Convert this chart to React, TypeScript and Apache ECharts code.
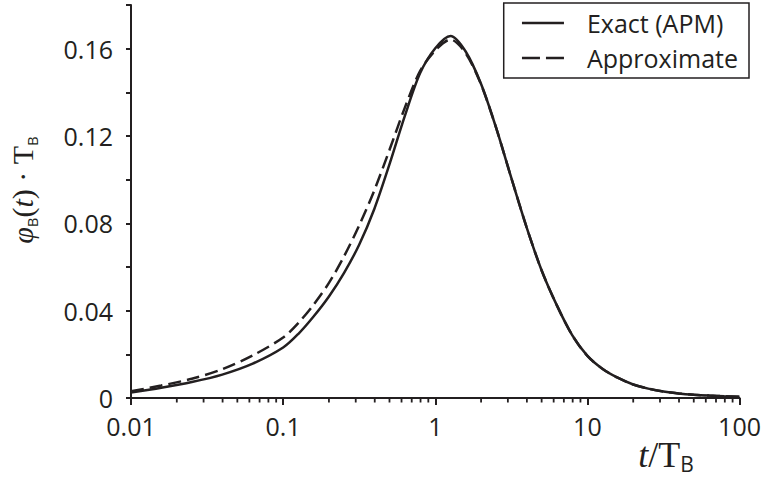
import React, { useEffect, useRef } from "react";
import * as echarts from "echarts";

// ---- data (t/T_B, phi_B(t)*T_B) ----
const tValues = [
  0.01, 0.0158, 0.0251, 0.0398, 0.0631, 0.1, 0.126, 0.158, 0.2, 0.251, 0.316, 0.398, 0.501, 0.631, 0.794,
  1, 1.26, 1.58, 2, 2.51, 3.16, 3.98, 5.01, 6.31, 7.94, 10, 12.6, 15.8, 20, 25.1, 31.6, 39.8, 50.1, 63.1, 79.4, 100,
];
const exactV = [
  0.0025, 0.0047, 0.0073, 0.0107, 0.0157, 0.0231, 0.0294, 0.0372, 0.0465, 0.0572, 0.0702, 0.0867, 0.1072, 0.1292, 0.1487,
  0.1602, 0.1658, 0.1588, 0.1438, 0.1238, 0.1008, 0.0783, 0.0583, 0.0423, 0.0288, 0.0193, 0.0133, 0.0093, 0.0062, 0.0043, 0.003, 0.0021, 0.0015, 0.0011, 0.0008, 0.0006,
];
const approxV = [
  0.0031, 0.0057, 0.0088, 0.0132, 0.0195, 0.0277, 0.0344, 0.0426, 0.0527, 0.0648, 0.079, 0.0952, 0.1138, 0.133, 0.1497,
  0.1592, 0.1642, 0.158, 0.1436, 0.1238, 0.1008, 0.0783, 0.0583, 0.0423, 0.0288, 0.0193, 0.0133, 0.0093, 0.0062, 0.0043, 0.003, 0.0021, 0.0015, 0.0011, 0.0008, 0.0006,
];

const seriesNames = ["Exact (APM)", "Approximate"];
const xMin = 0.01;
const xMax = 100;
const yMin = 0;
const yMax = 0.18;
const yStep = 0.02;
const yLabelStep = 0.04;
const xMinorTicks = [
  0.02, 0.03, 0.04, 0.05, 0.06, 0.07, 0.08, 0.09,
  0.2, 0.3, 0.4, 0.5, 0.6, 0.7, 0.8, 0.9,
  2, 3, 4, 5, 6, 7, 8, 9,
  20, 30, 40, 50, 60, 70, 80, 90,
];

const INK = "#231f20";
const SANS = "'Open Sans', 'Noto Sans', sans-serif";
const SERIF = "'Liberation Serif', 'DejaVu Serif', serif";

export default function App() {
  const ref = useRef<HTMLDivElement>(null);

  useEffect(() => {
    if (!ref.current) return;
    const chart = echarts.init(ref.current, undefined, { renderer: "svg" });

    const exactData = tValues.map((t, i) => [t, exactV[i]]);
    const approxData = tValues.map((t, i) => [t, approxV[i]]);

    chart.setOption({
      animation: false,
      backgroundColor: "#ffffff",
      grid: { left: 131, right: 21, top: 5, bottom: 80, containLabel: false },
      legend: {
        data: [
          { name: seriesNames[0], lineStyle: { type: "solid", width: 2.5, color: INK } },
          { name: seriesNames[1], lineStyle: { type: [18, 6], width: 2.5, color: INK } },
        ],
        orient: "vertical",
        right: 15,
        top: 3,
        borderColor: INK,
        borderWidth: 1.5,
        borderRadius: 0,
        padding: [5, 11, 5, 17],
        itemWidth: 42,
        itemHeight: 14,
        itemGap: 5,
        itemStyle: { opacity: 0 },
        textStyle: {
          fontSize: 25,
          fontFamily: SANS,
          color: INK,
          lineHeight: 30,
          padding: [0, 0, 0, 18],
        },
      },
      xAxis: {
        type: "log",
        logBase: 10,
        min: xMin,
        max: xMax,
        interval: 1,
        axisLine: { show: true, onZero: false, lineStyle: { color: INK, width: 2 } },
        axisTick: { show: true, inside: false, length: 7, lineStyle: { color: INK, width: 2 } },
        splitLine: { show: false },
        axisLabel: {
          margin: 15,
          fontSize: 25,
          lineHeight: 25,
          fontFamily: SANS,
          color: INK,
          formatter: (v: number) => String(Number(v.toPrecision(3))),
        },
      },
      yAxis: {
        type: "value",
        min: yMin,
        max: yMax,
        interval: yStep,
        axisLine: { show: true, lineStyle: { color: INK, width: 2 } },
        axisTick: { show: true, inside: false, length: 5, lineStyle: { color: INK, width: 2 } },
        splitLine: { show: false },
        axisLabel: {
          margin: 18,
          fontSize: 25,
          lineHeight: 20,
          fontFamily: SANS,
          color: INK,
          formatter: (v: number) => {
            const r = v / yLabelStep;
            if (Math.abs(r - Math.round(r)) > 1e-6) return "";
            return v === 0 ? "0" : v.toFixed(2);
          },
        },
      },
      series: [
        {
          name: seriesNames[0],
          type: "line",
          data: exactData,
          smooth: 0.3,
          symbol: "none",
          lineStyle: { color: INK, width: 2.5, type: "solid" },
          itemStyle: { color: INK },
          z: 3,
        },
        {
          name: seriesNames[1],
          type: "line",
          data: approxData,
          smooth: 0.3,
          symbol: "none",
          lineStyle: { color: INK, width: 2.5, type: [13, 6] },
          itemStyle: { color: INK },
          z: 4,
        },
        {
          name: "minorTicks",
          type: "custom",
          silent: true,
          data: xMinorTicks.map((t) => [t, 0]),
          renderItem: (params: any, api: any) => {
            const p = api.coord([api.value(0), yMin]);
            return {
              type: "line",
              shape: { x1: p[0], y1: p[1], x2: p[0], y2: p[1] + 4.5 },
              style: { stroke: INK, lineWidth: 1.8 },
            };
          },
          z: 5,
        },
      ],
      graphic: [
        {
          type: "text",
          x: 22,
          y: 190,
          rotation: Math.PI / 2,
          style: {
            text: "{phi|φ}{sub|B}{p|(}{it|t}{p|)}{dot| · }{T|T}{sub|B}",
            align: "center",
            verticalAlign: "middle",
            fill: INK,
            rich: {
              phi: { fontFamily: SERIF, fontStyle: "italic", fontSize: 30, lineHeight: 34, fill: INK },
              sub: { fontFamily: SANS, fontSize: 15, lineHeight: 34, verticalAlign: "bottom", fill: INK },
              p: { fontFamily: SERIF, fontSize: 30, lineHeight: 34, fill: INK },
              it: { fontFamily: SERIF, fontStyle: "italic", fontSize: 30, lineHeight: 34, fill: INK },
              dot: { fontFamily: SERIF, fontSize: 30, lineHeight: 34, fill: INK },
              T: { fontFamily: SERIF, fontSize: 30, lineHeight: 34, fill: INK },
            },
          },
        },
        {
          type: "text",
          x: 666,
          y: 455,
          style: {
            text: "{it|t}{p|/}{T|T}{sub|B}",
            align: "center",
            verticalAlign: "middle",
            fill: INK,
            rich: {
              it: { fontFamily: SERIF, fontStyle: "italic", fontSize: 36, lineHeight: 38, fill: INK },
              p: { fontFamily: SERIF, fontSize: 36, lineHeight: 38, fill: INK },
              T: { fontFamily: SERIF, fontSize: 36, lineHeight: 38, fill: INK },
              sub: { fontFamily: SANS, fontSize: 21, lineHeight: 38, verticalAlign: "bottom", fill: INK },
            },
          },
        },
      ],
    });

    return () => chart.dispose();
  }, []);

  return <div ref={ref} style={{ width: 764, height: 478, position: "absolute", left: 0, top: 0 }} />;
}
